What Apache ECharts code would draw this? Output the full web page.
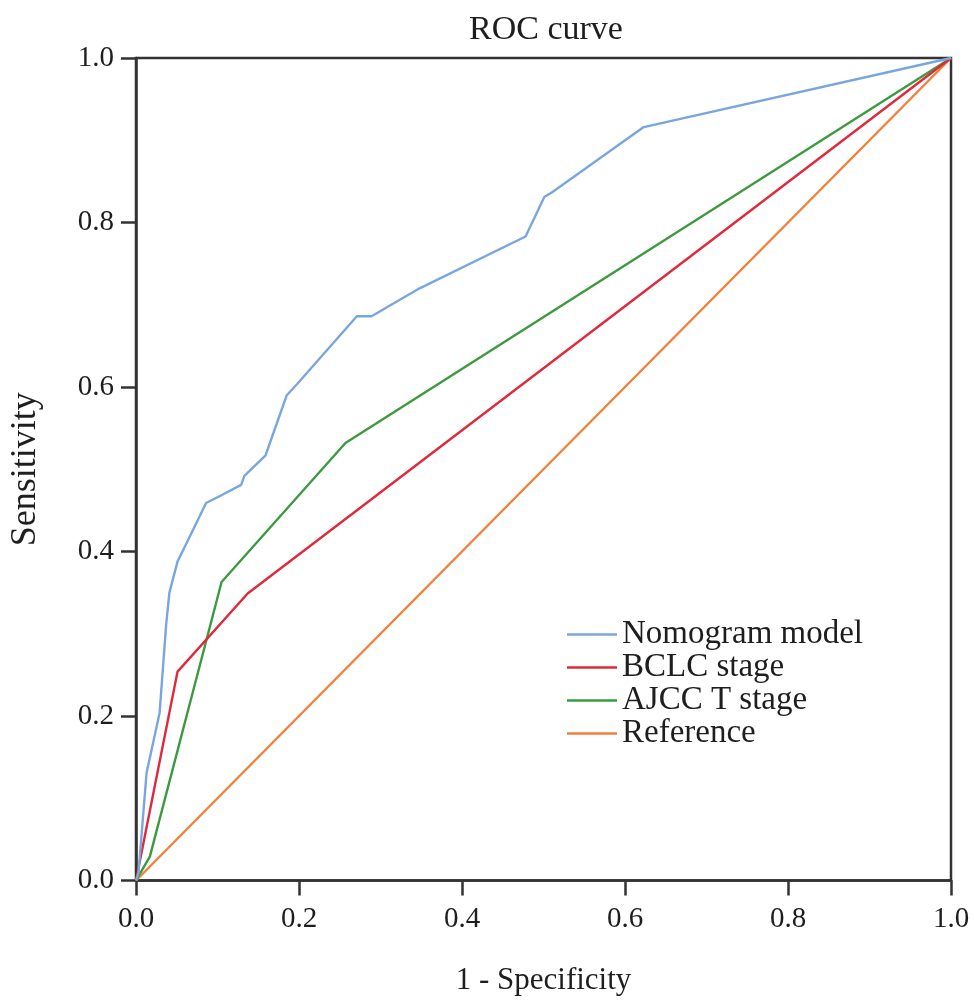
<!DOCTYPE html>
<html>
<head>
<meta charset="utf-8">
<title>ROC curve</title>
<script src="https://cdn.jsdelivr.net/npm/echarts@6/dist/echarts.min.js"></script>
<style>
  html, body { margin: 0; padding: 0; background: #fff; }
  #chart { width: 974px; height: 1005px; }
</style>
</head>
<body>
<div id="chart"></div>
<script>
const seriesNames = ['Nomogram model', 'BCLC stage', 'AJCC T stage', 'Reference']
const seriesColors = ['#79a6dd', '#e0293b', '#3d9a41', '#f2803a']

const nomogramFpr = [0, 0.003, 0.013, 0.029, 0.037, 0.041, 0.051, 0.062, 0.086, 0.106, 0.129, 0.133, 0.159, 0.185, 0.198, 0.271, 0.289, 0.348, 0.478, 0.501, 0.511, 0.623, 1]
const nomogramTpr = [0, 0.009, 0.131, 0.204, 0.311, 0.350, 0.388, 0.410, 0.459, 0.469, 0.481, 0.492, 0.517, 0.590, 0.604, 0.686, 0.686, 0.720, 0.783, 0.831, 0.837, 0.916, 1]

const bclcFpr = [0, 0.051, 0.137, 1]
const bclcTpr = [0, 0.254, 0.349, 1]

const ajccFpr = [0, 0.017, 0.105, 0.257, 1]
const ajccTpr = [0, 0.029, 0.363, 0.532, 1]

const refFpr = [0, 1]
const refTpr = [0, 1]

const xTicks = [0, 0.2, 0.4, 0.6, 0.8, 1.0]

const pairs = (xs, ys) => xs.map((x, i) => [x, ys[i]])
const curves = [
  pairs(nomogramFpr, nomogramTpr),
  pairs(bclcFpr, bclcTpr),
  pairs(ajccFpr, ajccTpr),
  pairs(refFpr, refTpr)
]

const font = '"Liberation Serif", "Times New Roman", serif'
const ink = '#1e1e1e'
const axisColor = '#333'

const chart = echarts.init(document.getElementById('chart'))

chart.setOption({
  backgroundColor: '#fff',
  animation: false,
  title: {
    text: 'ROC curve',
    left: 541,
    textAlign: 'center',
    top: 8,
    textStyle: { fontFamily: font, fontSize: 34, fontWeight: 'normal', color: ink }
  },
  legend: {
    data: seriesNames,
    orient: 'vertical',
    left: 562,
    top: 613,
    icon: 'rect',
    itemWidth: 50,
    itemHeight: 2.5,
    itemGap: 0,
    textStyle: { fontFamily: font, fontSize: 33, lineHeight: 32.5, color: ink }
  },
  grid: {
    left: 131,
    right: 23,
    top: 58,
    bottom: 124.5,
    show: true,
    borderColor: axisColor,
    borderWidth: 2.5
  },
  xAxis: {
    type: 'value',
    min: xTicks[0],
    max: xTicks[xTicks.length - 1],
    interval: 0.2,
    name: '1 - Specificity',
    nameLocation: 'middle',
    nameGap: 85,
    nameTextStyle: { fontFamily: font, fontSize: 31, color: ink },
    axisLine: { show: true, lineStyle: { color: axisColor, width: 2.5 } },
    axisTick: { show: true, inside: false, length: 15, lineStyle: { color: axisColor, width: 2.5 } },
    axisLabel: {
      margin: 24,
      fontFamily: font,
      fontSize: 29,
      color: ink,
      formatter: (v) => v.toFixed(1)
    },
    splitLine: { show: false }
  },
  yAxis: {
    type: 'value',
    min: 0,
    max: 1,
    interval: 0.2,
    name: 'Sensitivity',
    nameLocation: 'middle',
    nameGap: 92,
    nameTextStyle: { fontFamily: font, fontSize: 36, color: ink },
    axisLine: { show: true, lineStyle: { color: axisColor, width: 2.5 } },
    axisTick: { show: true, inside: false, length: 15, lineStyle: { color: axisColor, width: 2.5 } },
    axisLabel: {
      margin: 22,
      fontFamily: font,
      fontSize: 29,
      color: ink,
      formatter: (v) => v.toFixed(1)
    },
    splitLine: { show: false }
  },
  series: curves.map((d, i) => ({
    name: seriesNames[i],
    type: 'line',
    data: d,
    symbol: 'none',
    z: 10 - i,
    lineStyle: { color: seriesColors[i], width: 2.4 },
    itemStyle: { color: seriesColors[i] }
  }))
})
</script>
</body>
</html>
